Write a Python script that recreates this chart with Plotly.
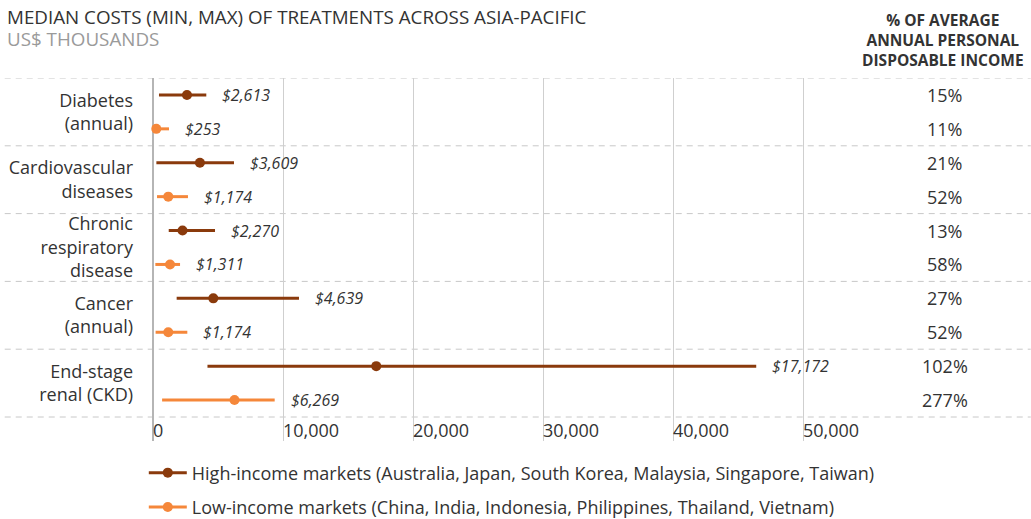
import plotly.graph_objects as go

categories = ["Diabetes<br>(annual)", "Cardiovascular<br>diseases", "Chronic<br>respiratory<br>disease",
              "Cancer<br>(annual)", "End-stage<br>renal (CKD)"]

high_min = [460, 260, 1210, 1820, 4190]
high_med = [2613, 3609, 2270, 4639, 17172]
high_max = [4100, 6230, 4770, 11230, 46400]
high_pct = ["15%", "21%", "13%", "27%", "102%"]

low_min = [0, 310, 180, 200, 700]
low_med = [253, 1174, 1311, 1174, 6269]
low_max = [1230, 2690, 2080, 2640, 9360]
low_pct = ["11%", "52%", "58%", "52%", "277%"]

x_ticks = [0, 10000, 20000, 30000, 40000, 50000]
x_ticklabels = ["0", "10,000", "20,000", "30,000", "40,000", "50,000"]

series_names = ["High-income markets (Australia, Japan, South Korea, Malaysia, Singapore, Taiwan)",
                "Low-income markets (China, India, Indonesia, Philippines, Thailand, Vietnam)"]

DARK = "#8a3a0c"
ORANGE = "#f5873a"
TXT = "#333333"
FONT = "Open Sans"

fig = go.Figure()

n = len(categories)
offsets = [-0.25, 0.25]
series = [
    (high_min, high_med, high_max, high_pct, DARK, series_names[0]),
    (low_min, low_med, low_max, low_pct, ORANGE, series_names[1]),
]

annotations = []
for si, (mins, meds, maxs, pcts, color, name) in enumerate(series):
    lx, ly, mx, my = [], [], [], []
    for i in range(n):
        y = i + offsets[si]
        lx += [mins[i], maxs[i], None]
        ly += [y, y, None]
        mx += [meds[i], None]
        my += [y, None]
        annotations.append(dict(x=maxs[i], y=y, xref="x", yref="y", text=f"${meds[i]:,}",
                                showarrow=False, xanchor="left", xshift=14,
                                font=dict(family=FONT, size=16, color=TXT, style="italic")))
        annotations.append(dict(x=1.059, y=y, xref="paper", yref="y", text=pcts[i],
                                showarrow=False, xanchor="center",
                                font=dict(family=FONT, size=18, color=TXT)))
    fig.add_trace(go.Scatter(x=lx, y=ly, mode="lines", line=dict(color=color, width=3),
                             showlegend=False, hoverinfo="skip", cliponaxis=False))
    fig.add_trace(go.Scatter(x=mx, y=my, mode="lines+markers", name=name,
                             line=dict(color=color, width=3),
                             marker=dict(color=color, size=10),
                             legendgroup=f"g{si}", cliponaxis=False))

shapes = []
for b in range(n + 1):
    shapes.append(dict(type="line", xref="paper", yref="y", x0=-0.178, x1=1.172,
                       y0=b - 0.5, y1=b - 0.5,
                       line=dict(color="#c8c8c8", width=1, dash="6px,5px"), layer="below"))

annotations.append(dict(x=-0.178, y=1.168, xref="paper", yref="paper", xanchor="left", yanchor="middle",
                        text="MEDIAN COSTS (MIN, MAX) OF TREATMENTS ACROSS ASIA-PACIFIC", showarrow=False,
                        font=dict(family=FONT, size=18.8, color=TXT)))
annotations.append(dict(x=-0.178, y=1.108, xref="paper", yref="paper", xanchor="left", yanchor="middle",
                        text="US$ THOUSANDS", showarrow=False,
                        font=dict(family=FONT, size=18.8, color="#9a9a9a")))
annotations.append(dict(x=1.057, y=1.105, xref="paper", yref="paper", xanchor="center", yanchor="middle",
                        text="<b>% OF AVERAGE<br>ANNUAL PERSONAL<br>DISPOSABLE INCOME</b>", showarrow=False,
                        align="center",
                        font=dict(family=FONT, size=15.5, color=TXT)))

fig.update_layout(
    width=1031, height=519,
    margin=dict(l=140, r=131, t=78, b=78, autoexpand=False),
    plot_bgcolor="white", paper_bgcolor="white",
    font=dict(family=FONT, size=18, color=TXT),
    xaxis=dict(range=[-1000, 57460], tickvals=x_ticks, ticktext=x_ticklabels,
               showgrid=True, gridcolor="#cfcfcf", gridwidth=1,
               zeroline=True, zerolinecolor="#b5b5b5", zerolinewidth=1.5,
               ticklabelposition="inside right", ticks="", ticklabelstandoff=-6,
               tickfont=dict(family=FONT, size=18, color=TXT), showline=False, fixedrange=True),
    yaxis=dict(range=[4.854, -0.5], tickvals=list(range(n)), ticktext=categories,
               showgrid=False, zeroline=False, showline=False, ticks="",
               ticklabelstandoff=6,
               tickfont=dict(family=FONT, size=18, color=TXT), fixedrange=True),
    legend=dict(x=0.005, y=-0.037, xanchor="left", yanchor="top", orientation="v",
                font=dict(family=FONT, size=18, color=TXT), tracegroupgap=8,
                itemwidth=38, bgcolor="rgba(0,0,0,0)"),
    shapes=shapes,
    annotations=annotations,
    showlegend=True,
)

fig.write_html("out.html", config={"displayModeBar": False},
               post_script="document.body.style.margin='0px';")
